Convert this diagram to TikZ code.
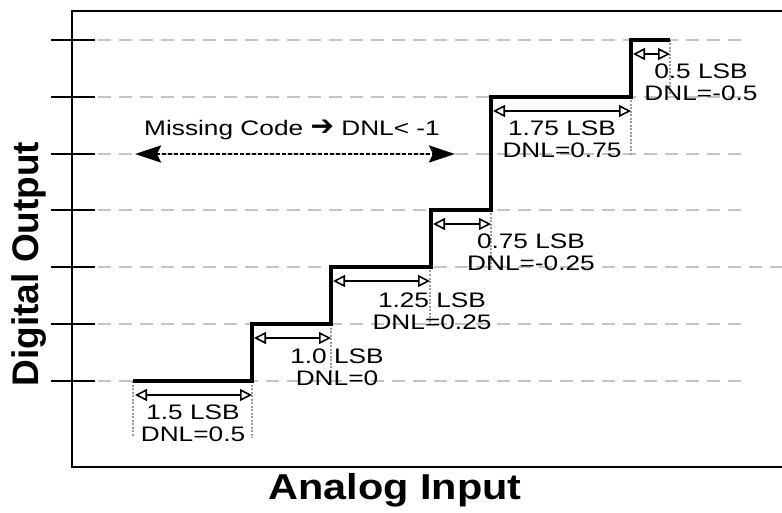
\documentclass[tikz,border=0pt]{standalone}
\usepackage{fontspec}
\setmainfont{Liberation Sans}
\newfontfamily\lsbfont[FakeStretch=1.25]{Liberation Sans}
\newfontfamily\axisfont[FakeStretch=1.15]{Liberation Sans}
\newfontfamily\symfont{DejaVu Sans}
\usetikzlibrary{arrows.meta}
\definecolor{grid-gray}{HTML}{C4C4C4}
\definecolor{dot-gray}{HTML}{9C9C9C}

\begin{document}
\begin{tikzpicture}[x=1pt, y=-1pt,
    stair/.style={line width=3.5pt, line join=miter},
    gridline/.style={grid-gray, line width=1.2pt, dash pattern=on 13pt off 8pt},
    tickline/.style={line width=2.5pt},
    frameline/.style={line width=2.5pt},
    endline/.style={dot-gray, line width=2.2pt, dash pattern=on 2pt off 1.5pt},
    lsbarrow/.style={line width=1.6pt, {Triangle[open, length=12pt, width=12pt]}-{Triangle[open, length=12pt, width=12pt]}},
    missarrow/.style={line width=2.5pt, dash pattern=on 4pt off 2pt, {Stealth[length=26pt, width=17pt, inset=4pt]}-{Stealth[length=26pt, width=17pt, inset=4pt]}},
    lsblabel/.style={font={\lsbfont\fontsize{21}{22}\selectfont}, align=center, inner sep=0pt},
    axislabel/.style={font={\axisfont\bfseries\fontsize{36}{40}\selectfont}, inner sep=0pt}]

    \useasboundingbox (0,0) rectangle (782,513);

    % Draw grid lines and ticks
    \foreach \y in {40,97,154,210,324,381} {
        \draw[gridline] (98,\y) -- (748,\y);
    }
    \draw[gridline] (98,267) -- (782,267);
    \foreach \y in {40,97,154,210,267,324,381} {
        \draw[tickline] (51,\y) -- (95,\y);
    }

    % Draw frame
    \draw[frameline] (782,11) -- (72,11) -- (72,467) -- (782,467);

    % Step ends and LSB arrows
    \coordinate (bot0) at (133,381+55);
    \draw[endline] (133,381) -- (bot0);
    \foreach \i/\xl/\xr/\y/\dl in {1/133/252/381/57, 2/252/331/324/48, 3/331/430/267/57,
                                   4/431/491/210/60, 5/491/631/97/58, 6/631/670/40/55} {
        \coordinate (top\i) at (\xr,\y);
        \coordinate (bot\i) at (\xr,\y+\dl);
        \draw[endline] (top\i) -- (bot\i);
        \coordinate (arL\i) at (\xl+2,\y+14);
        \coordinate (arR\i) at (\xr,\y+14);
        \draw[lsbarrow] (arL\i) -- (arR\i);
    }

    % Draw the transfer curve
    \foreach \n/\x/\y in {s0/133/381, s1/252/381, s2/252/324, s3/331/324, s4/331/267, s5/431/267,
                          s6/431/210, s7/491/210, s8/491/97, s9/631/97, s10/631/40, s11/670/40} {
        \coordinate (\n) at (\x,\y);
    }
    \draw[stair] (s0) -- (s1) -- (s2) -- (s3) -- (s4) -- (s5) -- (s6) -- (s7) -- (s8) -- (s9) -- (s10) -- (s11);

    % Missing code
    \coordinate (mcL) at (135,154);
    \coordinate (mcR) at (455,154);
    \draw[missarrow] (mcL) -- (mcR);
    \node[lsblabel] (mclabel) at (292,130) {Missing Code {\symfont\bfseries\fontsize{28}{28}\selectfont ➔} DNL< -1};

    % Add labels
    \node[lsblabel] (lsb1) at (193,423) {1.5 LSB\\DNL=0.5};
    \node[lsblabel] (lsb2) at (337,367) {1.0 LSB\\DNL=0};
    \node[lsblabel] (lsb3) at (432,311) {1.25 LSB\\DNL=0.25};
    \node[lsblabel] (lsb4) at (531,252) {0.75 LSB\\DNL=-0.25};
    \node[lsblabel] (lsb5) at (562,139) {1.75 LSB\\DNL=0.75};
    \node[lsblabel] (lsb6) at (701,82) {0.5 LSB\\DNL=-0.5};

    % Axis labels
    \node[axislabel] (xlabel) at (395,490) {Analog Input};
    \node[axislabel, rotate=90, font={\bfseries\fontsize{37}{40}\selectfont}] (ylabel) at (29,264) {Digital Output};
\end{tikzpicture}
\end{document}
